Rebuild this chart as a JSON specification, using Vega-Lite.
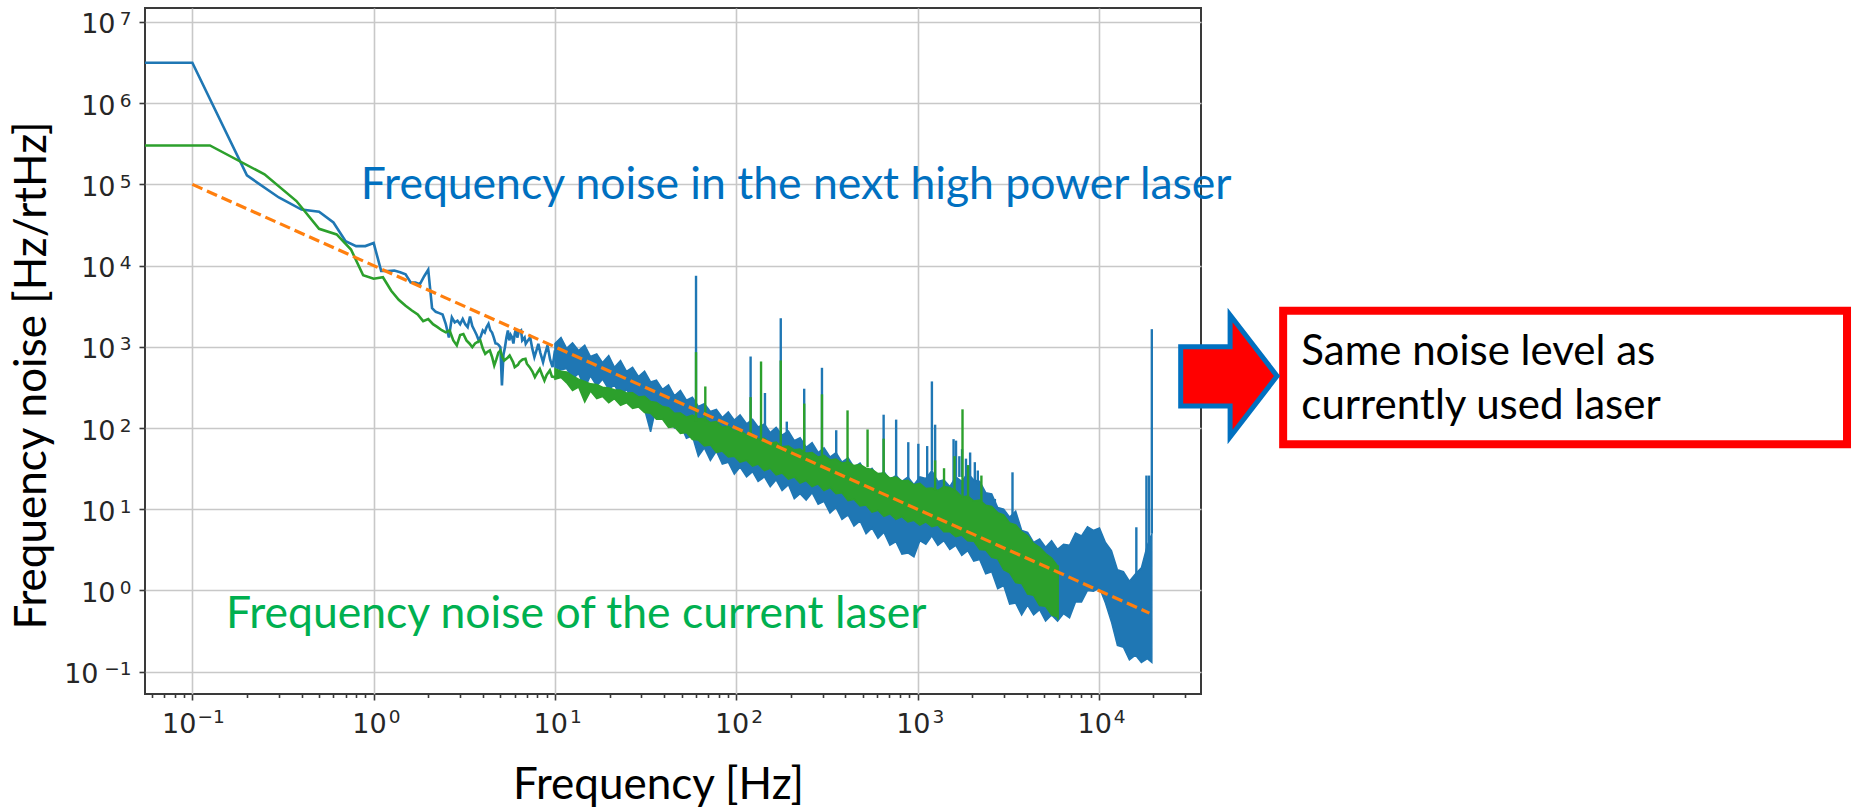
{
  "$schema": "https://vega.github.io/schema/vega-lite/v6.json",
  "width": 1056,
  "height": 686,
  "autosize": {"type": "none"},
  "padding": {"left": 145, "top": 8, "right": 651, "bottom": 115},
  "background": "white",
  "config": {"view": {"stroke": "#3a3a3a", "strokeWidth": 2}, "font": "Lato"},
  "resolve": {"axis": {"x": "independent", "y": "independent"}},
  "datasets": {
    "blueLine": [
      {"f": 0.0548, "v": 3150000}, {"f": 0.1, "v": 3150000}, {"f": 0.2, "v": 129000}, {"f": 0.3, "v": 69000},
      {"f": 0.4, "v": 49000}, {"f": 0.5, "v": 46000}, {"f": 0.6, "v": 34000}, {"f": 0.7, "v": 20000},
      {"f": 0.8, "v": 17400}, {"f": 0.9, "v": 17400}, {"f": 1.0, "v": 19000}, {"f": 1.1, "v": 8600},
      {"f": 1.2, "v": 8600}, {"f": 1.3, "v": 8700}, {"f": 1.4, "v": 8300}, {"f": 1.5, "v": 7800},
      {"f": 1.6, "v": 6200}, {"f": 1.7, "v": 6200}, {"f": 1.8, "v": 5900}, {"f": 1.9, "v": 7400},
      {"f": 2.0, "v": 8900}, {"f": 2.1, "v": 3000}, {"f": 2.2, "v": 2700}, {"f": 2.3, "v": 2600},
      {"f": 2.4, "v": 2500}, {"f": 2.5, "v": 1900}, {"f": 2.6, "v": 1300}, {"f": 2.7, "v": 2300},
      {"f": 2.8, "v": 2000}, {"f": 2.9, "v": 2100}, {"f": 3.0, "v": 1900}, {"f": 3.1, "v": 2200},
      {"f": 3.2, "v": 1900}, {"f": 3.3, "v": 1750}, {"f": 3.4, "v": 2360}, {"f": 3.5, "v": 1800},
      {"f": 3.6, "v": 1590}, {"f": 3.7, "v": 1400}, {"f": 3.8, "v": 1200}, {"f": 3.9, "v": 1350},
      {"f": 4.0, "v": 1590}, {"f": 4.1, "v": 1500}, {"f": 4.2, "v": 1750}, {"f": 4.3, "v": 1920},
      {"f": 4.4, "v": 1600}, {"f": 4.5, "v": 1500}, {"f": 4.6, "v": 1300}, {"f": 4.7, "v": 1100},
      {"f": 4.8, "v": 1090}, {"f": 4.9, "v": 1050}, {"f": 5.0, "v": 990}, {"f": 5.1, "v": 335},
      {"f": 5.2, "v": 800}, {"f": 5.3, "v": 990}, {"f": 5.4, "v": 1300}, {"f": 5.5, "v": 1590},
      {"f": 5.6, "v": 1200}, {"f": 5.7, "v": 1400}, {"f": 5.8, "v": 1310}, {"f": 5.9, "v": 1100},
      {"f": 6.0, "v": 1450}, {"f": 6.1, "v": 1660}, {"f": 6.2, "v": 1300}, {"f": 6.3, "v": 1500},
      {"f": 6.5, "v": 1590}, {"f": 6.6, "v": 1200}, {"f": 6.8, "v": 1300}, {"f": 6.9, "v": 1090},
      {"f": 7.1, "v": 1200}, {"f": 7.3, "v": 1310}, {"f": 7.5, "v": 950}, {"f": 7.7, "v": 746},
      {"f": 7.9, "v": 900}, {"f": 8.1, "v": 1090}, {"f": 8.3, "v": 850}, {"f": 8.6, "v": 648},
      {"f": 8.8, "v": 800}, {"f": 9.1, "v": 1040}, {"f": 9.4, "v": 700}, {"f": 9.7, "v": 562},
      {"f": 10.0, "v": 900}
    ],
    "blueBand": [
      {"f": 10, "v2": 560, "v": 1100}, {"f": 10.8, "v2": 520, "v": 1300}, {"f": 11.6, "v2": 540, "v": 960},
      {"f": 12.5, "v2": 400, "v": 1120}, {"f": 13.5, "v2": 470, "v": 900}, {"f": 14.6, "v2": 310, "v": 1050},
      {"f": 15.7, "v2": 440, "v": 760}, {"f": 17.0, "v2": 330, "v": 820}, {"f": 18.3, "v2": 400, "v": 640},
      {"f": 19.8, "v2": 300, "v": 780}, {"f": 21.3, "v2": 340, "v": 560}, {"f": 23.0, "v2": 240, "v": 680},
      {"f": 24.8, "v2": 300, "v": 500}, {"f": 26.8, "v2": 220, "v": 560}, {"f": 28.9, "v2": 250, "v": 430},
      {"f": 31.2, "v2": 170, "v": 500}, {"f": 33.7, "v2": 90, "v": 370}, {"f": 36.3, "v2": 190, "v": 390},
      {"f": 39.2, "v2": 140, "v": 300}, {"f": 42.3, "v2": 150, "v": 340}, {"f": 45.6, "v2": 100, "v": 250},
      {"f": 49.2, "v2": 110, "v": 290}, {"f": 53.1, "v2": 75, "v": 220}, {"f": 57.3, "v2": 80, "v": 240},
      {"f": 61.8, "v2": 45, "v": 185}, {"f": 66.7, "v2": 57, "v": 200}, {"f": 72.0, "v2": 40, "v": 160},
      {"f": 77.7, "v2": 52, "v": 170}, {"f": 83.8, "v2": 36, "v": 135}, {"f": 90.4, "v2": 38, "v": 158},
      {"f": 97.6, "v2": 27, "v": 125}, {"f": 105, "v2": 33, "v": 145}, {"f": 114, "v2": 25, "v": 113},
      {"f": 123, "v2": 29, "v": 128}, {"f": 132, "v2": 22, "v": 103}, {"f": 143, "v2": 25, "v": 112},
      {"f": 154, "v2": 19, "v": 88}, {"f": 166, "v2": 23, "v": 102}, {"f": 179, "v2": 17, "v": 82},
      {"f": 194, "v2": 20, "v": 92}, {"f": 209, "v2": 13.5, "v": 70}, {"f": 225, "v2": 15.5, "v": 76},
      {"f": 243, "v2": 13, "v": 58}, {"f": 262, "v2": 16, "v": 66}, {"f": 283, "v2": 11.5, "v": 50},
      {"f": 305, "v2": 12.5, "v": 57}, {"f": 329, "v2": 9, "v": 44}, {"f": 355, "v2": 10.5, "v": 50},
      {"f": 383, "v2": 7.5, "v": 38}, {"f": 414, "v2": 8.5, "v": 43}, {"f": 446, "v2": 6.2, "v": 33},
      {"f": 482, "v2": 7.2, "v": 37}, {"f": 520, "v2": 5, "v": 28}, {"f": 561, "v2": 5.9, "v": 32},
      {"f": 605, "v2": 4.4, "v": 25}, {"f": 653, "v2": 5.2, "v": 29}, {"f": 704, "v2": 3.6, "v": 23},
      {"f": 760, "v2": 4.0, "v": 26}, {"f": 820, "v2": 2.8, "v": 22}, {"f": 885, "v2": 2.9, "v": 25},
      {"f": 955, "v2": 2.6, "v": 20}, {"f": 1030, "v2": 4.1, "v": 25}, {"f": 1111, "v2": 3.7, "v": 24},
      {"f": 1199, "v2": 4.7, "v": 30}, {"f": 1294, "v2": 3.6, "v": 22}, {"f": 1396, "v2": 4.1, "v": 23},
      {"f": 1506, "v2": 3.2, "v": 19}, {"f": 1625, "v2": 3.6, "v": 25}, {"f": 1754, "v2": 2.7, "v": 22},
      {"f": 1892, "v2": 3.1, "v": 28}, {"f": 2042, "v2": 2.3, "v": 23}, {"f": 2203, "v2": 2.4, "v": 22},
      {"f": 2377, "v2": 1.6, "v": 16}, {"f": 2565, "v2": 1.7, "v": 15.5}, {"f": 2768, "v2": 1.05, "v": 10.5},
      {"f": 2986, "v2": 1.15, "v": 10}, {"f": 3222, "v2": 0.68, "v": 8}, {"f": 3477, "v2": 0.7, "v": 9.5},
      {"f": 3751, "v2": 0.5, "v": 5.5}, {"f": 4048, "v2": 0.66, "v": 5.2}, {"f": 4367, "v2": 0.5, "v": 3.9},
      {"f": 4712, "v2": 0.58, "v": 4.3}, {"f": 5085, "v2": 0.42, "v": 3.4}, {"f": 5486, "v2": 0.5, "v": 4.1},
      {"f": 5920, "v2": 0.42, "v": 3.2}, {"f": 6388, "v2": 0.52, "v": 3.7}, {"f": 6892, "v2": 0.46, "v": 3.6},
      {"f": 7437, "v2": 0.72, "v": 5.1}, {"f": 8024, "v2": 0.72, "v": 4.7}, {"f": 8658, "v2": 1.0, "v": 6.1},
      {"f": 9342, "v2": 0.98, "v": 5.5}, {"f": 10080, "v2": 1.08, "v": 5.9}, {"f": 10877, "v2": 0.7, "v": 3.9},
      {"f": 11736, "v2": 0.41, "v": 3.1}, {"f": 12663, "v2": 0.21, "v": 1.8}, {"f": 13663, "v2": 0.2, "v": 1.7},
      {"f": 14742, "v2": 0.14, "v": 1.3}, {"f": 15907, "v2": 0.16, "v": 1.6}, {"f": 17163, "v2": 0.13, "v": 1.9},
      {"f": 18519, "v2": 0.145, "v": 3.6}, {"f": 19600, "v2": 0.13, "v": 5}
    ],
    "blueSpikes": [
      {"f": 60, "v2": 150, "v": 7500}, {"f": 120, "v2": 110, "v": 760}, {"f": 144, "v2": 95, "v": 270},
      {"f": 176, "v2": 85, "v": 2250}, {"f": 190, "v2": 80, "v": 120}, {"f": 237, "v2": 62, "v": 305},
      {"f": 297, "v2": 50, "v": 552}, {"f": 356, "v2": 42, "v": 94}, {"f": 650, "v2": 25, "v": 146},
      {"f": 762, "v2": 23, "v": 127}, {"f": 889, "v2": 22, "v": 67}, {"f": 1010, "v2": 21, "v": 64},
      {"f": 1130, "v2": 25, "v": 60}, {"f": 1200, "v2": 30, "v": 375}, {"f": 1250, "v2": 25, "v": 110},
      {"f": 1580, "v2": 22, "v": 73}, {"f": 1630, "v2": 25, "v": 70}, {"f": 1700, "v2": 25, "v": 45},
      {"f": 1760, "v2": 25, "v": 55}, {"f": 1850, "v2": 25, "v": 42}, {"f": 1950, "v2": 25, "v": 50},
      {"f": 2070, "v2": 22, "v": 38}, {"f": 2150, "v2": 20, "v": 30}, {"f": 2670, "v2": 12, "v": 13.4},
      {"f": 3340, "v2": 8, "v": 28.5}, {"f": 16100, "v2": 1.5, "v": 6}, {"f": 18300, "v2": 3, "v": 26},
      {"f": 18900, "v2": 4, "v": 26}, {"f": 19600, "v2": 5, "v": 1650}
    ],
    "greenLine": [
      {"f": 0.0548, "v": 302000}, {"f": 0.125, "v": 302000}, {"f": 0.25, "v": 133000}, {"f": 0.375, "v": 62400},
      {"f": 0.5, "v": 28400}, {"f": 0.625, "v": 24200}, {"f": 0.75, "v": 15800}, {"f": 0.875, "v": 7600},
      {"f": 1.0, "v": 6900}, {"f": 1.125, "v": 7200}, {"f": 1.25, "v": 4900}, {"f": 1.375, "v": 3800},
      {"f": 1.5, "v": 3200}, {"f": 1.625, "v": 2800}, {"f": 1.75, "v": 2500}, {"f": 1.875, "v": 2070},
      {"f": 2.0, "v": 2200}, {"f": 2.125, "v": 1900}, {"f": 2.25, "v": 1750}, {"f": 2.375, "v": 1600},
      {"f": 2.5, "v": 1510}, {"f": 2.625, "v": 1590}, {"f": 2.75, "v": 1200}, {"f": 2.875, "v": 1040},
      {"f": 3.0, "v": 1400}, {"f": 3.125, "v": 1440}, {"f": 3.25, "v": 1200}, {"f": 3.375, "v": 1100},
      {"f": 3.5, "v": 990}, {"f": 3.625, "v": 1100}, {"f": 3.75, "v": 1150}, {"f": 3.875, "v": 1200},
      {"f": 4.0, "v": 950}, {"f": 4.125, "v": 820}, {"f": 4.25, "v": 870}, {"f": 4.375, "v": 902},
      {"f": 4.5, "v": 750}, {"f": 4.625, "v": 589}, {"f": 4.75, "v": 700}, {"f": 4.875, "v": 850},
      {"f": 5.0, "v": 902}, {"f": 5.125, "v": 750}, {"f": 5.25, "v": 679}, {"f": 5.5, "v": 740},
      {"f": 5.625, "v": 782}, {"f": 5.875, "v": 650}, {"f": 6.0, "v": 562}, {"f": 6.25, "v": 600},
      {"f": 6.375, "v": 648}, {"f": 6.625, "v": 700}, {"f": 6.875, "v": 711}, {"f": 7.0, "v": 620},
      {"f": 7.25, "v": 562}, {"f": 7.5, "v": 500}, {"f": 7.75, "v": 424}, {"f": 8.0, "v": 480},
      {"f": 8.25, "v": 536}, {"f": 8.5, "v": 450}, {"f": 8.75, "v": 385}, {"f": 9.0, "v": 450},
      {"f": 9.375, "v": 512}, {"f": 9.625, "v": 430}, {"f": 10.0, "v": 424}
    ],
    "greenBand": [
      {"f": 10, "v2": 400, "v": 540}, {"f": 10.8, "v2": 420, "v": 500}, {"f": 11.6, "v2": 360, "v": 490},
      {"f": 12.5, "v2": 290, "v": 440}, {"f": 13.5, "v2": 320, "v": 400}, {"f": 14.6, "v2": 210, "v": 375},
      {"f": 15.7, "v2": 285, "v": 350}, {"f": 17.0, "v2": 230, "v": 345}, {"f": 18.3, "v2": 245, "v": 318},
      {"f": 19.8, "v2": 205, "v": 312}, {"f": 21.3, "v2": 230, "v": 296}, {"f": 23.0, "v2": 190, "v": 292},
      {"f": 24.8, "v2": 205, "v": 270}, {"f": 26.8, "v2": 175, "v": 272}, {"f": 28.9, "v2": 182, "v": 242},
      {"f": 31.2, "v2": 155, "v": 246}, {"f": 33.7, "v2": 152, "v": 212}, {"f": 36.3, "v2": 128, "v": 206},
      {"f": 39.2, "v2": 128, "v": 184}, {"f": 42.3, "v2": 102, "v": 178}, {"f": 45.6, "v2": 104, "v": 152},
      {"f": 49.2, "v2": 86, "v": 153}, {"f": 53.1, "v2": 88, "v": 136}, {"f": 57.3, "v2": 72, "v": 144},
      {"f": 61.8, "v2": 71, "v": 130}, {"f": 66.7, "v2": 60, "v": 132}, {"f": 72.0, "v2": 62, "v": 117},
      {"f": 77.7, "v2": 50, "v": 120}, {"f": 83.8, "v2": 52, "v": 102}, {"f": 90.4, "v2": 44, "v": 105},
      {"f": 97.6, "v2": 45, "v": 92}, {"f": 105, "v2": 38, "v": 94}, {"f": 114, "v2": 40, "v": 82},
      {"f": 123, "v2": 34, "v": 84}, {"f": 132, "v2": 36, "v": 73}, {"f": 143, "v2": 30, "v": 75},
      {"f": 154, "v2": 32, "v": 65}, {"f": 166, "v2": 26.5, "v": 67}, {"f": 179, "v2": 28, "v": 59},
      {"f": 194, "v2": 23.5, "v": 60}, {"f": 209, "v2": 25, "v": 54}, {"f": 225, "v2": 21, "v": 55},
      {"f": 243, "v2": 22.5, "v": 49}, {"f": 262, "v2": 19, "v": 50}, {"f": 283, "v2": 20.5, "v": 44},
      {"f": 305, "v2": 17, "v": 46}, {"f": 329, "v2": 18.5, "v": 40.5}, {"f": 355, "v2": 15.5, "v": 41.5},
      {"f": 383, "v2": 16, "v": 37}, {"f": 414, "v2": 12.8, "v": 38.5}, {"f": 446, "v2": 13.3, "v": 34.5},
      {"f": 482, "v2": 11, "v": 35.5}, {"f": 520, "v2": 11.3, "v": 32}, {"f": 561, "v2": 9.2, "v": 31},
      {"f": 605, "v2": 9.7, "v": 27.5}, {"f": 653, "v2": 8.2, "v": 28}, {"f": 704, "v2": 8.8, "v": 24.2},
      {"f": 760, "v2": 7.5, "v": 25}, {"f": 820, "v2": 8.1, "v": 22.3}, {"f": 885, "v2": 7, "v": 22.8},
      {"f": 955, "v2": 7.3, "v": 20}, {"f": 1030, "v2": 6.4, "v": 20.8}, {"f": 1111, "v2": 7, "v": 18},
      {"f": 1199, "v2": 6.1, "v": 18.2}, {"f": 1294, "v2": 6.4, "v": 17}, {"f": 1396, "v2": 5.3, "v": 19},
      {"f": 1506, "v2": 5.3, "v": 18.5}, {"f": 1625, "v2": 4.6, "v": 17}, {"f": 1754, "v2": 4.8, "v": 14.2},
      {"f": 1892, "v2": 4.1, "v": 14.5}, {"f": 2042, "v2": 4.05, "v": 12.6}, {"f": 2203, "v2": 3.2, "v": 13},
      {"f": 2377, "v2": 3.15, "v": 11.2}, {"f": 2565, "v2": 2.55, "v": 10.8}, {"f": 2768, "v2": 2.45, "v": 9.1},
      {"f": 2986, "v2": 1.8, "v": 8.5}, {"f": 3222, "v2": 1.65, "v": 6.8}, {"f": 3477, "v2": 1.25, "v": 6.4},
      {"f": 3751, "v2": 1.22, "v": 5.3}, {"f": 4048, "v2": 0.9, "v": 4.7}, {"f": 4367, "v2": 0.87, "v": 3.8},
      {"f": 4712, "v2": 0.65, "v": 3.4}, {"f": 5085, "v2": 0.64, "v": 2.85}, {"f": 5486, "v2": 0.5, "v": 2.5},
      {"f": 5920, "v2": 0.47, "v": 2.0}, {"f": 5970, "v2": 0.44, "v": 2.0}
    ],
    "greenSpikes": [
      {"f": 60, "v2": 120, "v": 860}, {"f": 67.5, "v2": 120, "v": 325}, {"f": 120, "v2": 80, "v": 240},
      {"f": 137, "v2": 70, "v": 660}, {"f": 176, "v2": 60, "v": 680}, {"f": 237, "v2": 52, "v": 200},
      {"f": 297, "v2": 46, "v": 260}, {"f": 411, "v2": 36, "v": 165}, {"f": 530, "v2": 33, "v": 96},
      {"f": 650, "v2": 27, "v": 74}, {"f": 1250, "v2": 17, "v": 40}, {"f": 1400, "v2": 18, "v": 32},
      {"f": 1600, "v2": 17, "v": 45}, {"f": 1770, "v2": 14, "v": 170}, {"f": 1900, "v2": 14, "v": 35},
      {"f": 2250, "v2": 12, "v": 26}
    ],
    "fit": [{"f": 0.1, "v": 100000}, {"f": 19000, "v": 0.526}]
  },
  "encoding": {
    "x": {"field": "f", "type": "quantitative", "scale": {"type": "log", "domain": [0.0548, 36600], "nice": false}, "axis": null},
    "y": {"field": "v", "type": "quantitative", "scale": {"type": "log", "domain": [0.0531, 14870000], "nice": false}, "axis": null}
  },
  "layer": [
    {
      "data": {"name": "blueLine"},
      "mark": {"type": "line", "color": "#1f77b4", "strokeWidth": 2.6},
      "encoding": {
        "x": {
          "field": "f", "type": "quantitative",
          "scale": {"type": "log", "domain": [0.0548, 36600], "nice": false},
          "axis": {
            "orient": "bottom",
            "values": [0.06, 0.07, 0.08, 0.09, 0.1, 0.2, 0.3, 0.4, 0.5, 0.6, 0.7, 0.8, 0.9, 1, 2, 3, 4, 5, 6, 7, 8, 9, 10, 20, 30, 40, 50, 60, 70, 80, 90, 100, 200, 300, 400, 500, 600, 700, 800, 900, 1000, 2000, 3000, 4000, 5000, 6000, 7000, 8000, 9000, 10000, 20000, 30000],
            "labelExpr": "abs(log(datum.value)/LN10 - round(log(datum.value)/LN10)) > 0.01 ? '' : '10'",
            "labelOverlap": false, "labelFlush": false,
            "labelFont": "DejaVu Sans", "labelFontSize": 27, "labelColor": "#262626",
            "labelAlign": "right", "labelBaseline": "top", "labelPadding": 11,
            "labelOffset": {"condition": {"test": "datum.value < 0.5", "value": 3.6}, "value": 12.5},
            "tickSize": {"condition": {"test": "abs(log(datum.value)/LN10 - round(log(datum.value)/LN10)) < 0.01", "value": 6}, "value": 3.5},
            "tickColor": "#3a3a3a", "tickWidth": 1.6,
            "grid": true, "gridColor": "#c8c8c8", "gridWidth": 1.6,
            "gridOpacity": {"condition": {"test": "abs(log(datum.value)/LN10 - round(log(datum.value)/LN10)) < 0.01", "value": 1}, "value": 0},
            "domain": false,
            "title": "Frequency [Hz]", "titleFont": "Lato", "titleFontSize": 44, "titleFontWeight": "normal", "titleColor": "#000000",
            "titleX": 513, "titleY": 104, "titleBaseline": "alphabetic", "titleAlign": "center"
          }
        },
        "y": {
          "field": "v", "type": "quantitative",
          "scale": {"type": "log", "domain": [0.0531, 14870000], "nice": false},
          "axis": {
            "orient": "left",
            "values": [0.1, 1, 10, 100, 1000, 10000, 100000, 1000000, 10000000],
            "labelExpr": "'10'",
            "labelOverlap": false, "labelFlush": false,
            "labelFont": "DejaVu Sans", "labelFontSize": 27, "labelColor": "#262626",
            "labelPadding": {"condition": {"test": "datum.value < 0.5", "value": 41}, "value": 24},
            "labelOffset": 3,
            "tickSize": 6, "tickColor": "#3a3a3a", "tickWidth": 1.6,
            "grid": true, "gridColor": "#c8c8c8", "gridWidth": 1.6,
            "domain": false,
            "title": "Frequency noise [Hz/rtHz]", "titleFont": "Lato", "titleFontSize": 44, "titleFontWeight": "normal", "titleColor": "#000000",
            "titleX": -100, "titleY": 367, "titleAngle": -90, "titleBaseline": "alphabetic", "titleAlign": "center"
          }
        }
      }
    },
    {"data": {"name": "blueBand"}, "mark": {"type": "area", "color": "#1f77b4", "opacity": 1, "stroke": "#1f77b4", "strokeWidth": 1.5}, "encoding": {"y2": {"field": "v2"}}},
    {"data": {"name": "blueSpikes"}, "mark": {"type": "rule", "color": "#1f77b4", "strokeWidth": 2.4}, "encoding": {"y2": {"field": "v2"}}},
    {"data": {"name": "greenLine"}, "mark": {"type": "line", "color": "#2ca02c", "strokeWidth": 2.6}},
    {"data": {"name": "greenBand"}, "mark": {"type": "area", "color": "#2ca02c", "opacity": 1, "stroke": "#2ca02c", "strokeWidth": 1.5}, "encoding": {"y2": {"field": "v2"}}},
    {"data": {"name": "greenSpikes"}, "mark": {"type": "rule", "color": "#2ca02c", "strokeWidth": 2.4}, "encoding": {"y2": {"field": "v2"}}},
    {
      "data": {"name": "fit"},
      "mark": {"type": "line", "color": "#ff7f0e", "strokeWidth": 3.2, "strokeDash": [11, 5]},
      "encoding": {
        "x": {
          "field": "f", "type": "quantitative",
          "scale": {"type": "log", "domain": [0.0548, 36600], "nice": false},
          "axis": {
            "orient": "bottom",
            "values": [0.1, 1, 10, 100, 1000, 10000],
            "labelExpr": "datum.value < 0.5 ? '−1' : datum.value < 5 ? '0' : datum.value < 50 ? '1' : datum.value < 500 ? '2' : datum.value < 5000 ? '3' : '4'",
            "labelOverlap": false, "labelFlush": false,
            "labelFont": "DejaVu Sans", "labelFontSize": 18.5, "labelColor": "#262626",
            "labelAlign": "left", "labelBaseline": "top", "labelPadding": 7,
            "labelOffset": {"condition": {"test": "datum.value < 0.5", "value": 4.6}, "value": 14.5},
            "tickSize": 6, "tickOpacity": 0, "grid": false, "domain": false, "title": null
          }
        },
        "y": {
          "field": "v", "type": "quantitative",
          "scale": {"type": "log", "domain": [0.0531, 14870000], "nice": false},
          "axis": {
            "orient": "left",
            "values": [0.1, 1, 10, 100, 1000, 10000, 100000, 1000000, 10000000],
            "labelExpr": "datum.value < 0.5 ? '−1' : datum.value < 5 ? '0' : datum.value < 50 ? '1' : datum.value < 500 ? '2' : datum.value < 5000 ? '3' : datum.value < 50000 ? '4' : datum.value < 500000 ? '5' : datum.value < 5000000 ? '6' : '7'",
            "labelOverlap": false, "labelFlush": false,
            "labelFont": "DejaVu Sans", "labelFontSize": 18.5, "labelColor": "#262626",
            "labelPadding": 8, "labelOffset": -3,
            "tickSize": 6, "tickOpacity": 0, "grid": false, "domain": false, "title": null
          }
        }
      }
    },
    {
      "data": {"values": [{"label": "Frequency noise in the next high power laser", "f": 0.85, "v": 65600}]},
      "mark": {"type": "text", "align": "left", "baseline": "alphabetic", "font": "Lato", "fontSize": 44.5, "color": "#0070c0"},
      "encoding": {"text": {"field": "label"}}
    },
    {
      "data": {"values": [{"label": "Frequency noise of the current laser", "f": 0.1532, "v": 0.348}]},
      "mark": {"type": "text", "align": "left", "baseline": "alphabetic", "font": "Lato", "fontSize": 44.5, "color": "#00b050"},
      "encoding": {"text": {"field": "label"}}
    },
    {
      "data": {"values": [{"f": 103900, "f2": 133900000, "v": 2786, "v2": 63.1}]},
      "mark": {"type": "rect", "fill": "#ffffff", "stroke": "#ff0000", "strokeWidth": 8},
      "encoding": {"x2": {"field": "f2"}, "y2": {"field": "v2"}}
    },
    {
      "data": {"values": [{"label": "Same noise level as", "f": 130900, "v": 597}, {"label": "currently used laser", "f": 130900, "v": 128.2}]},
      "mark": {"type": "text", "align": "left", "baseline": "alphabetic", "font": "Lato", "fontSize": 42, "color": "#000000"},
      "encoding": {"text": {"field": "label"}}
    },
    {
      "data": {"values": [{"f": 52150, "v": 437.5}]},
      "mark": {"type": "point", "shape": "M-0.79,-0.48 L0.02,-0.48 L0.02,-1 L0.79,0 L0.02,1 L0.02,0.49 L-0.79,0.49 Z", "size": 14884, "filled": true, "fill": "#ff0000", "stroke": "#0070c0", "strokeWidth": 5, "opacity": 1}
    }
  ]
}
